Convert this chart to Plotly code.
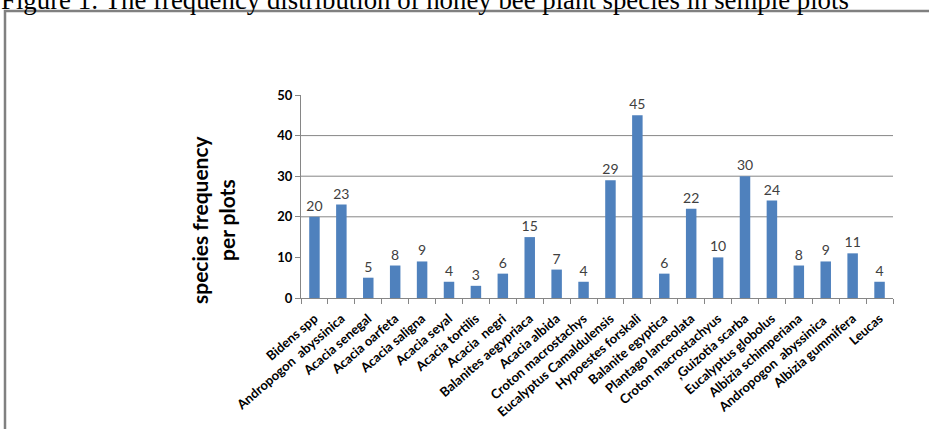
import plotly.graph_objects as go

categories = [
    "Bidens spp", "Andropogon  abyssinica", "Acacia senegal", "Acacia oarfeta",
    "Acacia saligna", "Acacia seyal", "Acacia tortilis", "Acacia  negri",
    "Balanites aegypriaca", "Acacia albida", "Croton macrostachys",
    "Eucalyptus Camaldulensis", "Hypoestes forskali", "Balanite egyptica",
    "Plantago lanceolata", "Croton macrostachyus", ",Guizotia scarba",
    "Eucalyptus globolus", "Albizia schimperiana", "Andropogon  abyssinica ",
    "Albizia gummifera", "Leucas",
]
values = [20, 23, 5, 8, 9, 4, 3, 6, 15, 7, 4, 29, 45, 6, 22, 10, 30, 24, 8, 9, 11, 4]
y_ticks = [0, 10, 20, 30, 40, 50]
grid_values = [20, 30, 40]
title_text = "Figure 1: The frequency distribution of honey bee plant species in semple plots"
y_title = "species frequency<br>per plots"

W, H = 929, 429
L, R, T, B = 301, 36, 95, 131
PW, PH = W - L - R, H - T - B


def px_x(px):
    return (px - L) / PW


def px_y(py):
    return (H - B - py) / PH


fig = go.Figure()
fig.add_trace(go.Bar(
    x=categories, y=values,
    marker=dict(color="#4F81BD", line=dict(width=0)),
    text=[str(v) for v in values], textposition="outside", constraintext="none",
    textfont=dict(family="Lato", size=14, color="#404040"),
    cliponaxis=False,
))

shapes = []
for g in grid_values:
    shapes.append(dict(type="line", xref="paper", x0=0, x1=1, yref="y", y0=g, y1=g,
                       line=dict(color="#868686", width=1), layer="below"))
shapes.append(dict(type="rect", xref="paper", yref="paper",
                   x0=px_x(5), x1=px_x(945), y0=px_y(11), y1=px_y(445),
                   line=dict(color="#808080", width=2.5), fillcolor="rgba(0,0,0,0)"))

fig.update_layout(
    width=W, height=H,
    margin=dict(l=L, r=R, t=T, b=B, pad=0, autoexpand=False),
    paper_bgcolor="white", plot_bgcolor="white",
    bargap=0.61, showlegend=False,
    shapes=shapes,
    annotations=[
        dict(text=title_text, xref="paper", yref="paper", x=px_x(-1), y=px_y(17.5),
             xanchor="left", yanchor="bottom", showarrow=False,
             font=dict(family="Liberation Serif", size=26.8, color="black")),
        dict(text=y_title, xref="paper", yref="paper", x=px_x(213), y=px_y(220),
             xanchor="center", yanchor="middle", textangle=-90, showarrow=False,
             font=dict(family="Lato", size=21, color="black", weight="bold")),
    ],
    xaxis=dict(
        type="category", showgrid=False, showline=True, linecolor="#868686", linewidth=1,
        ticks="outside", tickson="boundaries", ticklen=5, tickcolor="#868686",
        ticklabelstandoff=7, automargin=False,
        tickangle=-41, tickfont=dict(family="Lato", size=13, color="black", weight="bold"),
    ),
    yaxis=dict(
        range=[0, 50], tickvals=y_ticks, showgrid=False, zeroline=False,
        showline=True, linecolor="#868686", linewidth=1, automargin=False,
        ticks="outside", ticklen=5, tickcolor="#868686",
        tickfont=dict(family="Lato", size=13, color="black", weight="bold"),
    ),
)

fig.write_html("out.html")
